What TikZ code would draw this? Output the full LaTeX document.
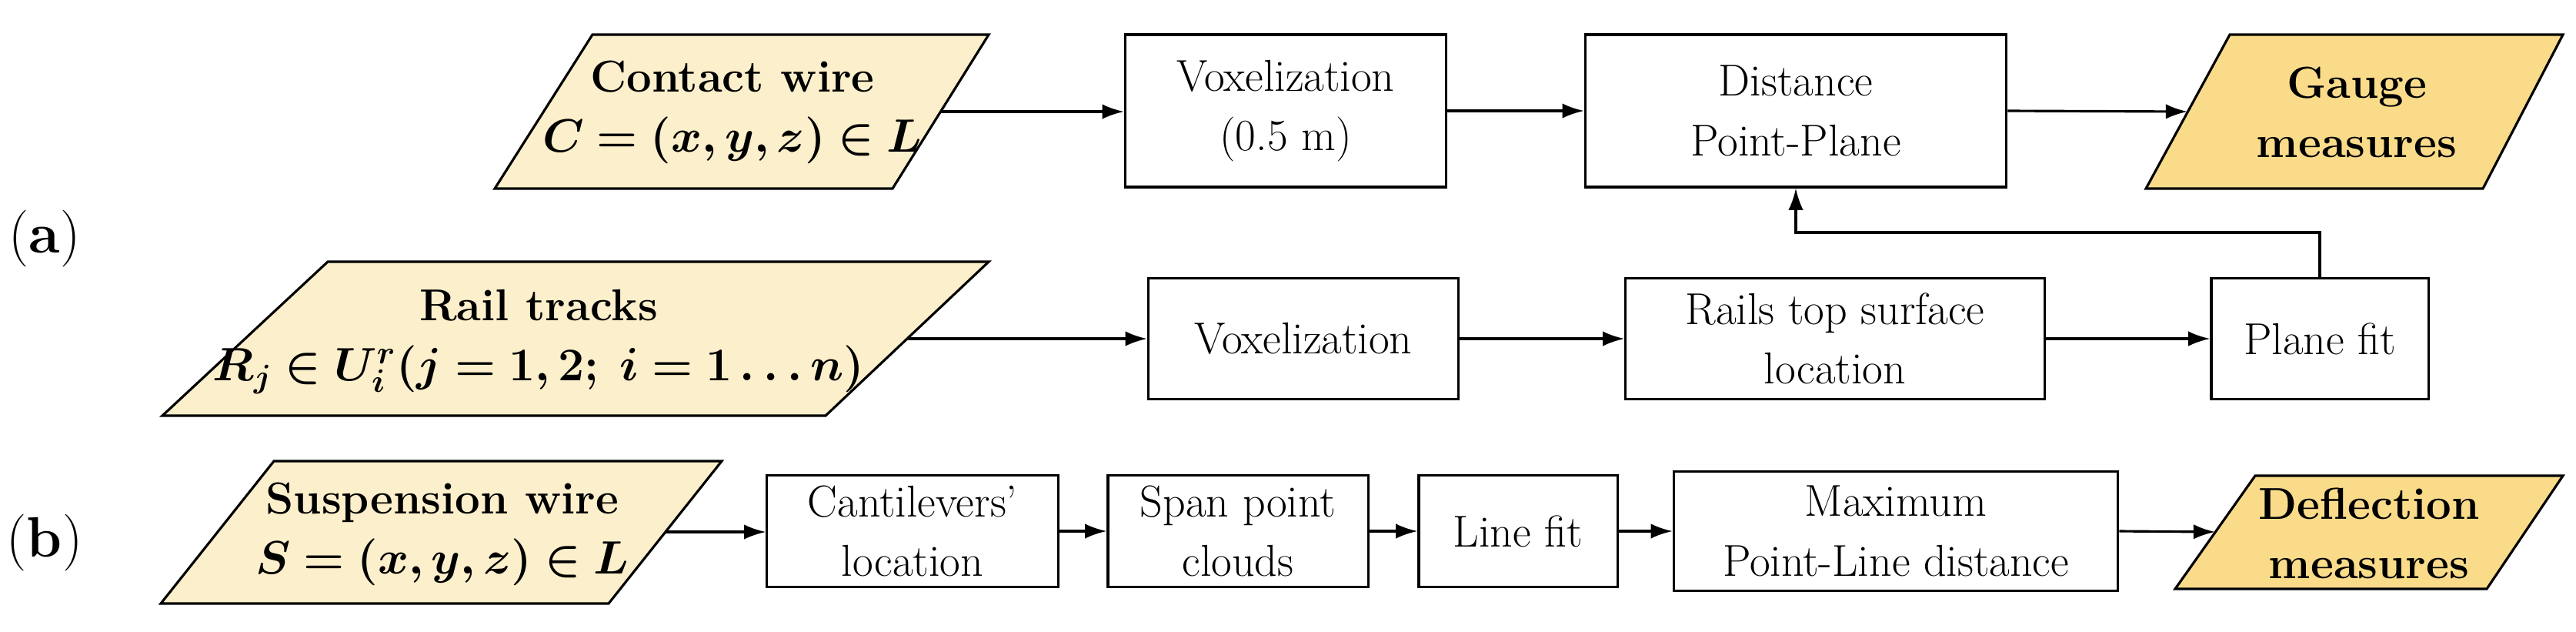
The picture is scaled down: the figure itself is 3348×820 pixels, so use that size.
\documentclass[tikz,border=0pt]{standalone}
\usepackage{bm}
\usetikzlibrary{arrows.meta}
\definecolor{inlight}{HTML}{FCEFCB}
\definecolor{outdark}{HTML}{F9DB8A}
\begin{document}
\begin{tikzpicture}[x=0.01cm,y=-0.01cm,
  font=\fontsize{16.5}{22}\selectfont,
  box/.style={draw, line width=0.9pt, align=center, inner sep=0pt},
  para/.style={draw, line width=0.9pt},
  txt/.style={align=center, inner sep=0pt},
  arr/.style={line width=0.9pt, -{Latex[length=8pt,width=5.5pt]}}]
\useasboundingbox (0,0) rectangle (3348,820);

% input / output parallelograms
\filldraw[para, fill=inlight] (770,45) -- (1285,45) -- (1160,245) -- (643,245) -- cycle;
\filldraw[para, fill=inlight] (426,340) -- (1285,340) -- (1073,540) -- (211,540) -- cycle;
\filldraw[para, fill=inlight] (356,599) -- (938,599) -- (791,784) -- (209,784) -- cycle;
\filldraw[para, fill=outdark] (2898,45) -- (3331,45) -- (3227,245) -- (2789,245) -- cycle;
\filldraw[para, fill=outdark] (2931,618) -- (3331,618) -- (3232,765) -- (2827,765) -- cycle;

\node[txt] (cw) at (952,146) {\textbf{Contact wire}\\$\bm{C=(x,y,z)\in L}$};
\node[txt] (rt) at (700,444) {\textbf{Rail tracks}\\$\bm{R_j\in U_i^r(j=1,2;\ i=1\dots n)}$};
\node[txt] (sw) at (575,694) {\textbf{Suspension wire}\\$\bm{S=(x,y,z)\in L}$};
\node[txt] (gm) at (3063,146) {\textbf{Gauge}\\\textbf{measures}};
\node[txt] (dm) at (3079,693) {\textbf{Deflection}\\\textbf{measures}};

\coordinate (cwE) at (1222,145);
\coordinate (rtE) at (1179,440);
\coordinate (swE) at (864,691);
\coordinate (gmW) at (2843,145);
\coordinate (dmW) at (2879,691);

% process boxes
\node[box, minimum width=4.17cm, minimum height=1.98cm] (vx1) at (1671,144) {Voxelization\\(0.5 m)};
\node[box, minimum width=5.47cm, minimum height=1.98cm] (dpp) at (2334,144) {Distance\\Point-Plane};
\node[box, minimum width=4.03cm, minimum height=1.57cm] (vx2) at (1694,440) {Voxelization};
\node[box, minimum width=5.44cm, minimum height=1.57cm] (rts) at (2385,440) {Rails top surface\\location};
\node[box, minimum width=2.82cm, minimum height=1.57cm] (pf) at (3015,440) {Plane fit};
\node[box, minimum width=3.78cm, minimum height=1.45cm] (cl) at (1186,690) {Cantilevers'\\location};
\node[box, minimum width=3.38cm, minimum height=1.45cm] (sp) at (1609,690) {Span point\\clouds};
\node[box, minimum width=2.58cm, minimum height=1.45cm] (lf) at (1973,690) {Line fit};
\node[box, minimum width=5.77cm, minimum height=1.55cm] (mx) at (2464,690) {Maximum\\Point-Line distance};

\node[txt, font=\fontsize{21}{26}\selectfont] (la) at (58,310) {(\textbf{a})};
\node[txt, font=\fontsize{21}{26}\selectfont] (lb) at (58,705) {(\textbf{b})};

% connectors
\draw[arr] (cwE) -- (vx1.west |- cwE);
\draw[arr] (vx1) -- (dpp);
\draw[arr] (dpp.east) -- (gmW);
\draw[arr] (rtE) -- (vx2.west |- rtE);
\draw[arr] (vx2) -- (rts);
\draw[arr] (rts) -- (pf);
\draw[arr] (pf.north) |- (dpp.south |- 0,302) -- (dpp.south);
\draw[arr] (swE) -- (cl.west |- swE);
\draw[arr] (cl) -- (sp);
\draw[arr] (sp) -- (lf);
\draw[arr] (lf) -- (mx);
\draw[arr] (mx.east) -- (dmW);
\end{tikzpicture}
\end{document}
